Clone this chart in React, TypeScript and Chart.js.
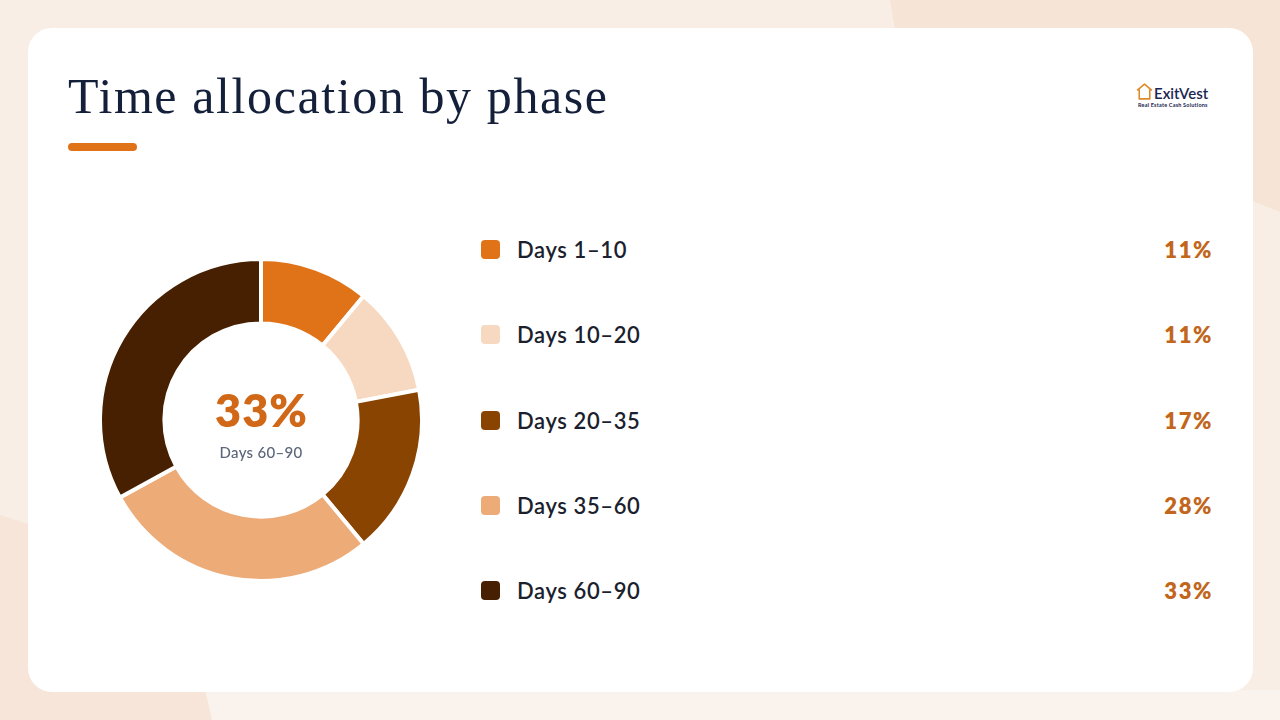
import React, { useEffect, useRef } from "react";
import { Chart, registerables } from "chart.js";

Chart.register(...registerables);

const categories = ["Days 1–10", "Days 10–20", "Days 20–35", "Days 35–60", "Days 60–90"];
const shares = [11, 11, 17, 28, 33];
const sliceColors = ["#e07318", "#f6d9c0", "#8a4402", "#edab78", "#462000"];
const valueLabels = ["11%", "11%", "17%", "28%", "33%"];
const centerValue = "33%";
const centerLabel = "Days 60–90";

const SANS = "Lato, 'Noto Sans', sans-serif";

const centerTextPlugin = {
  id: "centerText",
  afterDraw(chart: any) {
    const arc = chart.getDatasetMeta(0).data[0];
    if (!arc) return;
    const { x, y } = arc;
    const ctx = chart.ctx;
    ctx.save();
    ctx.textAlign = "center";
    ctx.textBaseline = "alphabetic";
    ctx.fillStyle = "#d06818";
    ctx.font = `800 45px ${SANS}`;
    (ctx as any).letterSpacing = "1px";
    ctx.fillText(centerValue, x + 0.5, y + 7);
    ctx.fillStyle = "#5b667a";
    ctx.font = `500 15px ${SANS}`;
    (ctx as any).letterSpacing = "0.3px";
    ctx.fillText(centerLabel, x, y + 38);
    ctx.restore();
  },
};

function Donut() {
  const ref = useRef<HTMLCanvasElement>(null);
  useEffect(() => {
    if (!ref.current) return;
    const chart = new Chart(ref.current, {
      type: "doughnut",
      data: {
        labels: categories,
        datasets: [
          {
            data: shares,
            backgroundColor: sliceColors,
            borderColor: "#ffffff",
            borderWidth: 4,
            hoverOffset: 0,
          },
        ],
      },
      options: {
        responsive: false,
        animation: false,
        cutout: "60%",
        layout: { padding: 0 },
        plugins: { legend: { display: false }, tooltip: { enabled: false } },
      },
      plugins: [centerTextPlugin],
    });
    return () => chart.destroy();
  }, []);
  return (
    <canvas
      ref={ref}
      width={326}
      height={326}
      style={{ position: "absolute", left: 98, top: 257, width: 326, height: 326 }}
    />
  );
}

export default function App() {
  useEffect(() => {
    document.body.style.margin = "0";
  }, []);
  const rowTop = 250;
  const rowStep = 85.25;
  return (
    <div
      style={{
        position: "fixed",
        left: 0,
        top: 0,
        width: 1280,
        height: 720,
        overflow: "hidden",
        background: "#f9eee5",
        fontFamily: SANS,
      }}
    >
      {/* background shapes */}
      <div
        style={{
          position: "absolute",
          inset: 0,
          background: "#f6e4d6",
          clipPath: "polygon(890px 0, 1280px 0, 1280px 212px, 1100px 140px, 900px 60px)",
        }}
      />
      <div
        style={{
          position: "absolute",
          inset: 0,
          background: "#f6e5d8",
          clipPath: "polygon(0 515px, 200px 580px, 212px 720px, 0 720px)",
        }}
      />
      <div
        style={{
          position: "absolute",
          inset: 0,
          background: "#faf2ec",
          clipPath: "polygon(212px 720px, 205px 690px, 1280px 690px, 1280px 720px)",
        }}
      />
      {/* card */}
      <div
        style={{
          position: "absolute",
          left: 28,
          top: 28,
          width: 1225,
          height: 664,
          background: "#ffffff",
          borderRadius: 24,
        }}
      />
      {/* title */}
      <div
        style={{
          position: "absolute",
          left: 68,
          top: 66,
          fontFamily: "'Liberation Serif', 'DejaVu Serif', serif",
          fontSize: 50,
          lineHeight: "60px",
          letterSpacing: "1.6px",
          color: "#14203a",
          whiteSpace: "nowrap",
        }}
      >
        Time allocation by phase
      </div>
      <div
        style={{
          position: "absolute",
          left: 68,
          top: 143,
          width: 69,
          height: 8,
          borderRadius: 4,
          background: "#e07318",
        }}
      />
      {/* logo */}
      <div style={{ position: "absolute", left: 1135, top: 82 }}>
        <svg width="19" height="19" viewBox="0 0 18 18" style={{ position: "absolute", left: 0, top: 0 }}>
          <path
            d="M2 8 L9 2 L16 8 M4 7 L4 16 L14 16 L14 7"
            fill="none"
            stroke="#e0892a"
            strokeWidth="1.5"
            strokeLinejoin="round"
          />
        </svg>
        <div
          style={{
            position: "absolute",
            left: 19,
            top: 2,
            fontSize: 15,
            fontWeight: 600,
            color: "#1b2550",
            whiteSpace: "nowrap",
            lineHeight: "18px",
          }}
        >
          ExitVest
        </div>
        <div
          style={{
            position: "absolute",
            left: 3,
            top: 20,
            fontSize: 5.5,
            fontWeight: 700,
            color: "#1b2550",
            whiteSpace: "nowrap",
            lineHeight: "6px",
            letterSpacing: "0.2px",
          }}
        >
          Real Estate Cash Solutions
        </div>
      </div>
      <Donut />
      {/* legend */}
      {categories.map((c, i) => {
        const cy = rowTop + i * rowStep;
        return (
          <React.Fragment key={c}>
            <div
              style={{
                position: "absolute",
                left: 481,
                top: cy - 10,
                width: 19,
                height: 19,
                borderRadius: 4,
                background: sliceColors[i],
              }}
            />
            <div
              style={{
                position: "absolute",
                left: 517,
                top: cy - 15,
                fontSize: 22,
                lineHeight: "30px",
                fontWeight: 600,
                letterSpacing: "0.6px",
                color: "#1c1f2e",
                whiteSpace: "nowrap",
              }}
            >
              {c}
            </div>
            <div
              style={{
                position: "absolute",
                right: 1280 - 1213,
                top: cy - 15,
                fontSize: 22,
                lineHeight: "30px",
                fontWeight: 800,
                letterSpacing: "1.6px",
                color: "#c2661c",
                whiteSpace: "nowrap",
              }}
            >
              {valueLabels[i]}
            </div>
          </React.Fragment>
        );
      })}
    </div>
  );
}
